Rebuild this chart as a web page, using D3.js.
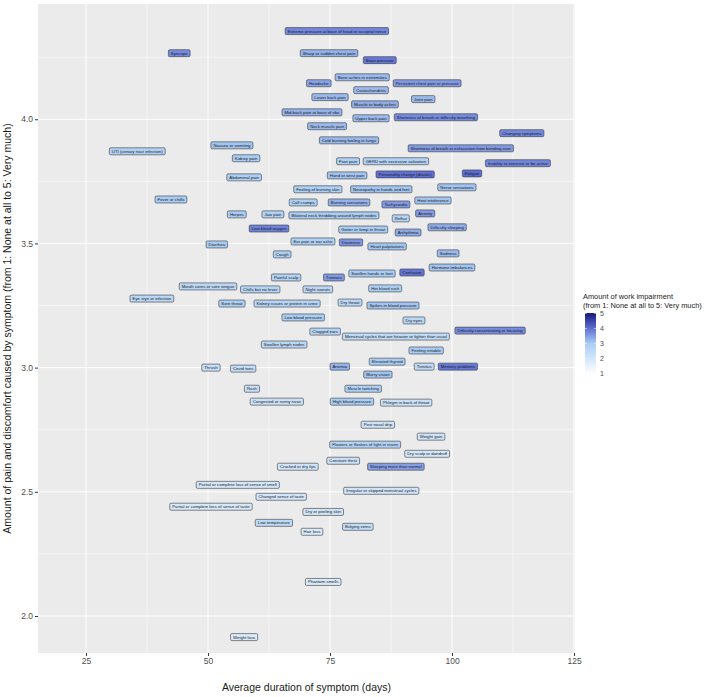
<!DOCTYPE html>
<html><head><meta charset="utf-8">
<script src="https://cdn.jsdelivr.net/npm/d3@7"></script>
<style>body{margin:0;background:#fff;}svg{display:block;font-family:"Liberation Sans",Arial,sans-serif;}</style>
</head><body><svg id="c" width="709" height="697"></svg>
<script>
const symptoms = ["Extreme pressure at base of head or occipital nerve","Syncope","Sharp or sudden chest pain","Brain pressure","Bone aches in extremities","Headache","Persistent chest pain or pressure","Costochondritis","Lower back pain","Joint pain","Muscle or body aches","Mid-back pain at base of ribs","Upper back pain","Shortness of breath or difficulty breathing","Neck muscle pain","Changing symptoms","Cold burning feeling in lungs","Shortness of breath or exhaustion from bending over","Foot pain","GERD with excessive salivation","Inability to exercise or be active","Hand or wrist pain","Personality change (drastic)","Fatigue","Nausea or vomiting","UTI (urinary tract infection)","Kidney pain","Abdominal pain","Nerve sensations","Feeling of burning skin","Neuropathy in hands and feet","Fever or chills","Calf cramps","Burning sensations","Tachycardia","Heat intolerance","Herpes","Jaw pain","Bilateral neck throbbing around lymph nodes","Reflux","Anxiety","Low blood oxygen","Goiter or lump in throat","Difficulty sleeping","Arrhythmia","Ear pain or ear ache","Dizziness","Heart palpitations","Diarrhea","Cough","Sadness","Hormone imbalances","Painful scalp","Tremors","Swollen hands or feet","Confusion","Mouth sores or sore tongue","Chills but no fever","Night sweats","Hot blood rush","Eye stye or infection","Sore throat","Kidney issues or protein in urine","Dry throat","Spikes in blood pressure","Low blood pressure","Dry eyes","Clogged ears","Menstrual cycles that are heavier or lighter than usual","Difficulty concentrating or focusing","Swollen lymph nodes","Feeling irritable","Elevated thyroid","Anemia","Tinnitus","Memory problems","Thrush","Covid toes","Blurry vision","Muscle twitching","Rash","Congested or runny nose","High blood pressure","Phlegm in back of throat","Post nasal drip","Weight gain","Floaters or flashes of light in vision","Dry scalp or dandruff","Constant thirst","Cracked or dry lips","Sleeping more than normal","Partial or complete loss of sense of smell","Changed sense of taste","Irregular or skipped menstrual cycles","Partial or complete loss of sense of taste","Dry or peeling skin","Low temperature","Bulging veins","Hair loss","Phantom smells","Weight loss"];
const duration = [76.4,44.1,74.8,85.2,81.6,72.7,94.9,83.4,75.0,94.1,84.2,71.3,83.4,96.7,74.4,114.3,78.9,101.8,78.7,88.5,113.5,78.5,90.4,104.1,54.9,35.5,57.8,57.4,101.0,72.5,85.5,42.4,69.5,78.9,88.5,96.1,55.9,63.3,75.8,89.5,94.5,62.5,81.8,99.0,91.0,71.5,79.3,86.7,51.8,65.2,99.2,100.0,66.0,75.8,83.6,91.8,50.0,60.7,72.5,86.3,38.5,54.9,66.2,79.1,87.9,69.5,92.2,74.0,88.5,107.8,65.6,94.7,86.7,77.0,94.3,101.2,50.6,57.2,84.8,81.8,59.0,64.1,79.5,90.6,84.8,95.7,82.2,94.9,77.7,68.4,88.5,56.1,65.0,85.5,50.6,73.6,63.5,80.7,71.3,73.6,57.4];
const pain = [4.355,4.266,4.266,4.238,4.169,4.145,4.145,4.117,4.089,4.081,4.060,4.028,4.004,4.008,3.972,3.944,3.915,3.883,3.831,3.831,3.823,3.774,3.778,3.782,3.895,3.871,3.843,3.766,3.726,3.718,3.718,3.677,3.665,3.665,3.657,3.673,3.617,3.617,3.613,3.601,3.621,3.560,3.556,3.565,3.544,3.508,3.504,3.488,3.496,3.456,3.460,3.403,3.363,3.363,3.379,3.383,3.327,3.315,3.315,3.319,3.278,3.258,3.258,3.262,3.250,3.202,3.190,3.145,3.125,3.149,3.093,3.069,3.024,3.004,3.004,3.004,3.000,2.996,2.972,2.915,2.915,2.863,2.863,2.859,2.770,2.722,2.690,2.653,2.625,2.601,2.601,2.528,2.480,2.504,2.440,2.419,2.375,2.359,2.339,2.137,1.915];
const impairment = [3.75,3.7,3.3,3.9,3.2,3.45,3.55,3.2,3.2,3.2,3.35,3.3,3.2,3.7,3.2,3.75,3.2,3.55,2.9,2.8,3.75,3.1,4.0,4.05,3.1,2.8,3.0,2.9,3.1,2.9,3.1,3.0,2.9,3.3,3.55,3.1,3.0,2.8,3.0,2.7,3.55,3.8,3.0,3.35,3.35,2.9,3.6,3.1,3.0,2.9,3.2,3.1,2.8,3.55,3.0,3.95,2.6,2.7,2.6,2.9,2.6,2.9,2.7,2.6,3.1,3.0,2.6,2.7,2.5,3.7,2.6,3.0,3.0,3.3,2.5,3.9,2.3,2.4,3.1,2.9,2.3,2.2,3.0,2.2,2.1,2.1,2.8,2.0,2.2,2.1,3.5,2.0,2.0,2.1,1.9,2.1,2.5,2.4,1.9,1.9,1.9];
const xTicks = [25,50,75,100,125];
const yTicks = [2.0,2.5,3.0,3.5,4.0];
const legendTicks = [1,2,3,4,5];

const svg = d3.select("#c");
const P = {l:38, r:575, t:4, b:653};
const x = d3.scaleLinear().domain([15.16,125.2]).range([P.l,P.r]);
const y = d3.scaleLinear().domain([1.851,4.464]).range([P.b,P.t]);
const fill = d3.scaleLinear().domain([1,3,4,5]).range(["#ffffff","#a9cdf4","#5f6fd4","#16167c"]).interpolate(d3.interpolateRgb);

svg.append("rect").attr("x",P.l).attr("y",P.t).attr("width",P.r-P.l).attr("height",P.b-P.t).attr("fill","#ebebeb");
const g = svg.append("g");
const xMinor = [12.5,37.5,62.5,87.5,112.5].filter(v=>x(v)>P.l&&x(v)<P.r);
const yMinor = [2.25,2.75,3.25,3.75,4.25];
xMinor.forEach(v=>g.append("line").attr("x1",x(v)).attr("x2",x(v)).attr("y1",P.t).attr("y2",P.b).attr("stroke","#fff").attr("stroke-width",0.5));
yMinor.forEach(v=>g.append("line").attr("y1",y(v)).attr("y2",y(v)).attr("x1",P.l).attr("x2",P.r).attr("stroke","#fff").attr("stroke-width",0.5));
xTicks.forEach(v=>g.append("line").attr("x1",x(v)).attr("x2",x(v)).attr("y1",P.t).attr("y2",P.b).attr("stroke","#fff").attr("stroke-width",1));
yTicks.forEach(v=>g.append("line").attr("y1",y(v)).attr("y2",y(v)).attr("x1",P.l).attr("x2",P.r).attr("stroke","#fff").attr("stroke-width",1));

const xAxis = svg.append("g").attr("transform",`translate(0,${P.b})`)
  .call(d3.axisBottom(x).tickValues(xTicks).tickSize(3).tickPadding(2).tickFormat(d3.format("d")));
const yAxis = svg.append("g").attr("transform",`translate(${P.l},0)`)
  .call(d3.axisLeft(y).tickValues(yTicks).tickSize(3).tickPadding(2).tickFormat(d3.format(".1f")));
[xAxis,yAxis].forEach(a=>{a.select(".domain").remove();a.selectAll(".tick line").attr("stroke","#333");
  a.selectAll("text").attr("fill","#4d4d4d").style("font-size","8.5px").style("font-family","Liberation Sans, Arial, sans-serif");});

svg.append("text").attr("x",(P.l+P.r)/2).attr("y",691).attr("text-anchor","middle").style("font-size","10.5px").attr("fill","#1a1a1a").text("Average duration of symptom (days)");
svg.append("text").attr("transform",`translate(11,${(P.t+P.b)/2}) rotate(-90)`).attr("text-anchor","middle").style("font-size","10.5px").attr("fill","#1a1a1a").text("Amount of pain and discomfort caused by symptom (from 1: None at all to 5: Very much)");

// labels
const lab = svg.append("g");
symptoms.forEach((s,i)=>{
  const cx = x(duration[i]), cy = y(pain[i]);
  const gg = lab.append("g");
  const r = gg.append("rect");
  const t = gg.append("text").attr("x",cx).attr("y",cy+1.5).attr("text-anchor","middle").style("font-size","4.3px").attr("fill","#1a1a1a").text(s);
  const w = t.node().getComputedTextLength()+5;
  r.attr("x",cx-w/2).attr("y",cy-3.5).attr("width",w).attr("height",7).attr("rx",1.3)
   .attr("fill",fill(impairment[i])).attr("stroke","#3a3a3a").attr("stroke-width",0.6);
});

// legend
const lg = svg.append("g");
lg.append("text").attr("x",583).attr("y",299).style("font-size","7.4px").attr("fill","#1a1a1a").text("Amount of work impairment");
lg.append("text").attr("x",583).attr("y",308).style("font-size","7.4px").attr("fill","#1a1a1a").text("(from 1: None at all to 5: Very much)");
const defs = svg.append("defs");
const grad = defs.append("linearGradient").attr("id","lgd").attr("x1",0).attr("y1",1).attr("x2",0).attr("y2",0);
d3.range(0,11).forEach(k=>{const v=1+k*0.4;grad.append("stop").attr("offset",(k*10)+"%").attr("stop-color",fill(v));});
const ly = d3.scaleLinear().domain([1,5]).range([373.5,313.5]);
lg.append("rect").attr("x",585).attr("y",ly(5.03)).attr("width",11).attr("height",ly(0.97)-ly(5.03)).attr("fill","url(#lgd)");
legendTicks.forEach(v=>{
  lg.append("line").attr("x1",585).attr("x2",587).attr("y1",ly(v)).attr("y2",ly(v)).attr("stroke","#fff").attr("stroke-width",0.5);
  lg.append("line").attr("x1",594).attr("x2",596).attr("y1",ly(v)).attr("y2",ly(v)).attr("stroke","#fff").attr("stroke-width",0.5);
  lg.append("text").attr("x",600).attr("y",ly(v)+2.5).style("font-size","7px").attr("fill","#4d4d4d").text(v);
});
</script></body></html>
